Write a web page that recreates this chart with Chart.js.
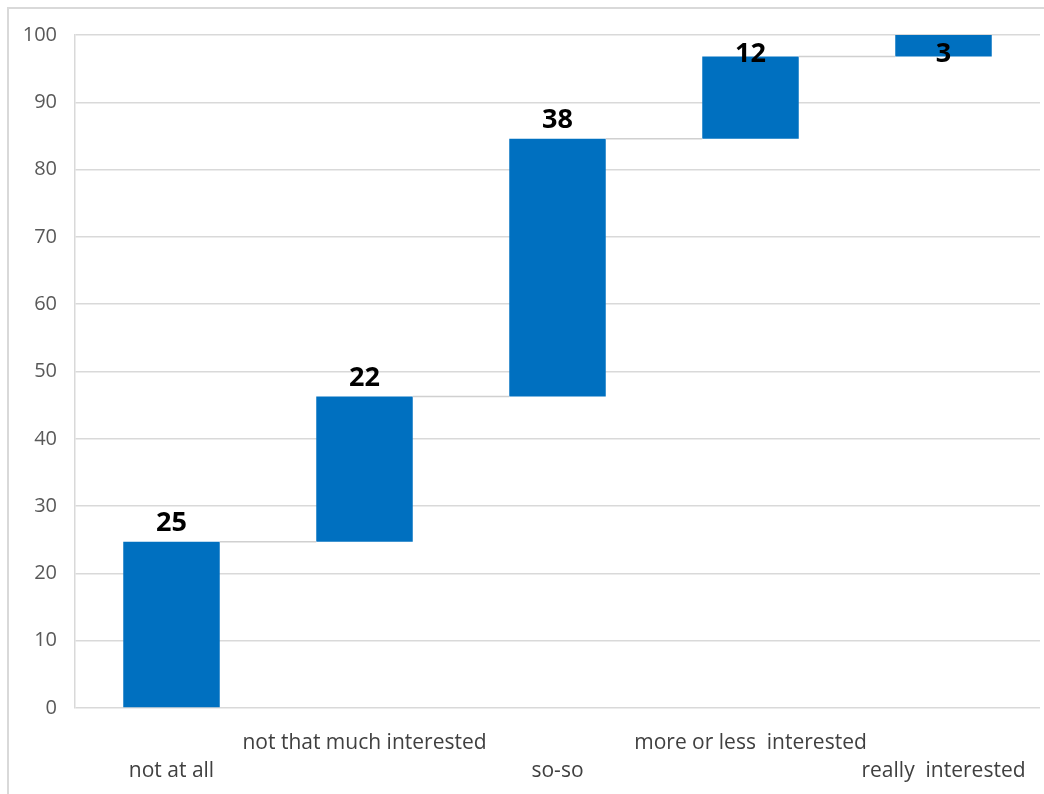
<!DOCTYPE html>
<html>
<head>
<meta charset="utf-8">
<script src="https://cdn.jsdelivr.net/npm/chart.js@4/dist/chart.umd.min.js"></script>
<style>
  html, body { margin: 0; padding: 0; background: #fff; overflow: hidden; }
  #frame {
    position: absolute; left: 7px; top: 7px; width: 1200px; height: 900px;
    border-left: 2px solid #d9d9d9; border-top: 2px solid #d9d9d9;
  }
  #wrap { position: absolute; left: 0; top: 0; width: 1044px; height: 794px; }
</style>
</head>
<body>
<div id="frame"></div>
<div id="wrap"><canvas id="chartWaterfall" width="1044" height="794"></canvas></div>
<script>
// waterfall steps
const categories = ["not at all", "not that much interested", "so-so", "more or less  interested", "really  interested"];
const values = [24.7, 21.6, 38.3, 12.2, 3.2];
const yTicks = [0, 10, 20, 30, 40, 50, 60, 70, 80, 90, 100];

// floating bars [start, end]
let running = 0;
const ranges = values.map((v) => {
  const r = [running, running + v];
  running += v;
  return r;
});

// connectors + value labels
const waterfallExtras = {
  id: "waterfallExtras",
  afterDatasetsDraw(chart) {
    const ctx = chart.ctx;
    const bars = chart.getDatasetMeta(0).data;
    const y = chart.scales.y;

    ctx.save();
    ctx.strokeStyle = "#d0d0d0";
    ctx.lineWidth = 1.5;
    for (let i = 0; i < bars.length - 1; i++) {
      const a = bars[i], b = bars[i + 1];
      const yy = y.getPixelForValue(ranges[i][1]);
      ctx.beginPath();
      ctx.moveTo(a.x + a.width / 2, yy);
      ctx.lineTo(b.x - b.width / 2, yy);
      ctx.stroke();
    }

    ctx.fillStyle = "#000";
    ctx.font = "bold 27px 'Open Sans'";
    ctx.textAlign = "center";
    ctx.textBaseline = "middle";
    bars.forEach((bar, i) => {
      const top = y.getPixelForValue(ranges[i][1]);
      const ly = Math.max(top - 18, 54);
      ctx.fillText(Math.round(values[i]), bar.x, ly);
    });
    ctx.restore();
  },
};

new Chart(document.getElementById("chartWaterfall"), {
  type: "bar",
  data: {
    labels: categories,
    datasets: [
      {
        data: ranges,
        backgroundColor: "#0070c0",
        borderWidth: 0,
        barPercentage: 0.5,
        categoryPercentage: 1,
      },
    ],
  },
  options: {
    responsive: false,
    animation: false,
    layout: { padding: { left: 20, right: 4, top: 35, bottom: 10 } },
    plugins: {
      legend: { display: false },
      tooltip: { enabled: false },
    },
    scales: {
      x: {
        afterFit: (s) => { s.height = 76; },
        grid: { display: false },
        border: { display: false },
        ticks: {
          color: "#404040",
          font: { family: "'Open Sans'", size: 21, lineHeight: 28 / 21 },
          padding: 13,
          maxRotation: 0,
          autoSkip: false,
          callback: (v, i) => (i % 2 === 0 ? ["", categories[i]] : [categories[i], ""]),
        },
      },
      y: {
        min: 0,
        max: 100,
        afterFit: (s) => { s.width = 55; },
        afterBuildTicks: (s) => { s.ticks = yTicks.map((v) => ({ value: v })); },
        grid: { color: "#d9d9d9", lineWidth: 1.5, drawTicks: false },
        border: { display: true, color: "#d9d9d9", width: 1.5 },
        ticks: {
          color: "#595959",
          font: { family: "'Open Sans'", size: 20 },
          padding: 18,
        },
      },
    },
  },
  plugins: [waterfallExtras],
});
</script>
</body>
</html>
